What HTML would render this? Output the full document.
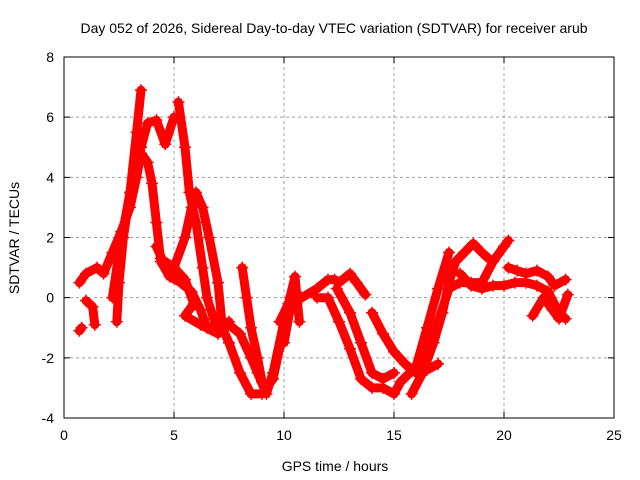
<!DOCTYPE html>
<html><head><meta charset="utf-8"><style>
body{margin:0;background:#fff;}
svg{display:block;font-family:"Liberation Sans",sans-serif;}
</style></head><body>
<svg id="chart" width="640" height="480">
<text x="334" y="33" font-size="14" text-anchor="middle">Day 052 of 2026, Sidereal Day-to-day VTEC variation (SDTVAR) for receiver arub</text>
<text x="335" y="471" font-size="14" text-anchor="middle">GPS time / hours</text>
<text transform="translate(19,238) rotate(-90)" font-size="14" text-anchor="middle">SDTVAR / TECUs</text>
<g id="grid"></g><g id="ticks"></g><g id="series"></g>
<rect x="64" y="57" width="550" height="361" fill="none" stroke="#000" stroke-width="1"/>
</svg>
<script>
const xTicks=[0,5,10,15,20,25];
const yTicks=[-4,-2,0,2,4,6,8];
const track1=[[2.4,-0.8],[2.5,0.5],[2.7,2],[3.0,3.5],[3.3,5.5],[3.5,6.9]];
const track2=[[2.2,0],[2.5,1.5],[3,3.5],[3.5,5],[3.8,5.8],[4.2,5.9],[4.6,5.1],[5.0,6.0]];
const track3=[[5.2,6.5],[5.5,5],[5.7,3.5],[6.0,2.5],[6.3,1],[6.5,0],[6.8,-0.7],[7.5,-0.9],[8,-1.2],[8.5,-2],[8.8,-2.5],[9.2,-3.2],[9.5,-2.5],[10,-0.8],[10.3,0]];
const track4=[[0.7,0.5],[1,0.8],[1.5,1],[1.8,0.8],[2.2,1.5],[2.6,2.2],[3.0,3.0],[3.3,4.0],[3.5,4.8],[3.8,4.5],[4.0,3.8],[4.2,2.5],[4.4,1.2],[4.8,0.7],[5.3,0.5],[5.8,0.2],[6.2,-0.4],[6.5,-1.0],[7,-0.9],[7.5,-0.8]];
const track5=[[4.2,1.7],[4.7,0.9],[5.0,1.0],[5.5,2],[5.8,3],[6.0,3.5],[6.3,3],[6.6,2],[7,0.5],[7.2,-1],[7.5,-1.5],[8,-2.5],[8.5,-3.2],[9,-3.2],[9.5,-2.7],[10,-1],[10.3,-0.2]];
const track6=[[4.4,1.3],[5,1.0],[5.5,0.6],[5.9,-0.2],[5.5,-0.6],[6.2,-0.9],[7,-1.2]];
const track7=[[8.1,1.0],[8.3,0],[8.5,-1],[8.8,-2],[9,-2.8]];
const track8=[[0.7,-1.1],[0.8,-1.0]];
const track9=[[1.0,-0.1],[1.3,-0.3],[1.4,-0.9]];
const trackR1=[[10,-1.5],[10.3,-0.3],[10.8,0],[11.5,0.3],[12,0.6],[12.3,0.6],[12.5,0.5],[13,0.8],[13.3,0.5],[13.7,0.1]];
const trackR2=[[11.5,0],[12,0],[12.5,-0.8],[13,-1.7],[13.5,-2.7],[14,-3],[14.5,-3],[15,-3.2],[15.3,-2.8],[16,-2.3],[16.5,-1],[17,0.3],[17.5,1.5]];
const trackR3=[[12.4,0.3],[13,-0.5],[13.5,-1.5],[14,-2.5],[14.5,-2.7],[15,-2.5]];
const trackR4=[[14,-0.5],[14.5,-1.2],[15,-1.8],[15.5,-2.2],[16,-2.5],[16.5,-2.4],[17,-2.2]];
const trackR5=[[15.8,-3.2],[16.3,-2.5],[16.8,-1.5],[17.2,-0.5],[17.5,0.5],[17.8,1.2],[18.2,1.5],[18.6,1.8],[19,1.5],[19.3,1.3]];
const trackR6=[[16.5,-2],[17,-0.8],[17.5,0.3],[18,0.5],[18.5,0.5],[19,0.5],[19.5,1.2],[20,1.7],[20.2,1.9]];
const trackR7=[[18,0.8],[18.5,0.4],[19,0.3],[19.5,0.4],[20,0.4],[20.5,0.5],[21,0.5],[21.5,0.4],[22,0.2],[22.5,-0.5],[22.8,-0.7]];
const trackR8=[[20.2,1.0],[20.6,0.9],[21,0.8],[21.5,0.9],[22,0.7],[22.3,0.4],[22.8,0.6]];
const trackR9=[[21.3,-0.6],[21.8,0],[22.2,-0.4],[22.5,-0.7],[22.9,0.1]];
const trackR10=[[9.8,-0.8],[10.2,-0.2],[10.5,0.7],[10.7,-0.8]];
const tracks=[track1,track2,track3,track4,track5,track6,track7,track8,track9,trackR1,trackR2,trackR3,trackR4,trackR5,trackR6,trackR7,trackR8,trackR9,trackR10];

const X0=64,X1=614,Y0=418,Y1=57,xmin=0,xmax=25,ymin=-4,ymax=8;
function sx(t){return X0+(t-xmin)/(xmax-xmin)*(X1-X0);}
function sy(v){return Y0-(v-ymin)/(ymax-ymin)*(Y0-Y1);}
const NS="http://www.w3.org/2000/svg";
function mk(tag,attrs,parent){const e=document.createElementNS(NS,tag);for(const k in attrs)e.setAttribute(k,attrs[k]);parent.appendChild(e);return e;}
const grid=document.getElementById('grid'),ticks=document.getElementById('ticks'),series=document.getElementById('series');
xTicks.forEach(t=>{
  const x=sx(t);
  if(t>xmin&&t<xmax){const g=mk('line',{x1:x,y1:Y0,x2:x,y2:Y1,stroke:'#a0a0a0','stroke-dasharray':'3,3'},grid);
  
  }
  const tk=mk('path',{d:`M${x},${Y0}v-6M${x},${Y1}v6`,stroke:'#000'},ticks);
  
  
  const lb=mk('text',{x:x,y:Y0+22,'font-size':14,'text-anchor':'middle'},ticks);lb.textContent=t;
  
  
});
yTicks.forEach(v=>{
  const y=sy(v);
  if(v>ymin&&v<ymax){const g=mk('line',{x1:X0,y1:y,x2:X1,y2:y,stroke:'#a0a0a0','stroke-dasharray':'3,3'},grid);
  
  }
  const tk=mk('path',{d:`M${X0},${y}h6M${X1},${y}h-6`,stroke:'#000'},ticks);
  
  
  const lb=mk('text',{x:X0-10,y:y+5,'font-size':14,'text-anchor':'end'},ticks);lb.textContent=v;
  
  
});
tracks.forEach(tr=>{
  const d=tr.map((p,i)=>(i?'L':'M')+sx(p[0]).toFixed(1)+','+sy(p[1]).toFixed(1)).join('');
  const pl=mk('path',{d:d,fill:'none',stroke:'#ff0000','stroke-width':9,'stroke-linejoin':'round','stroke-linecap':'round'},series);
  
  
  tr.forEach(p=>{
    const x=sx(p[0]),y=sy(p[1]);
    const m=mk('path',{d:`M${x-6},${y}h12M${x},${y-6}v12`,stroke:'#ff0000','stroke-width':1.5},series);
    
    
  });
});
</script>
</body></html>
